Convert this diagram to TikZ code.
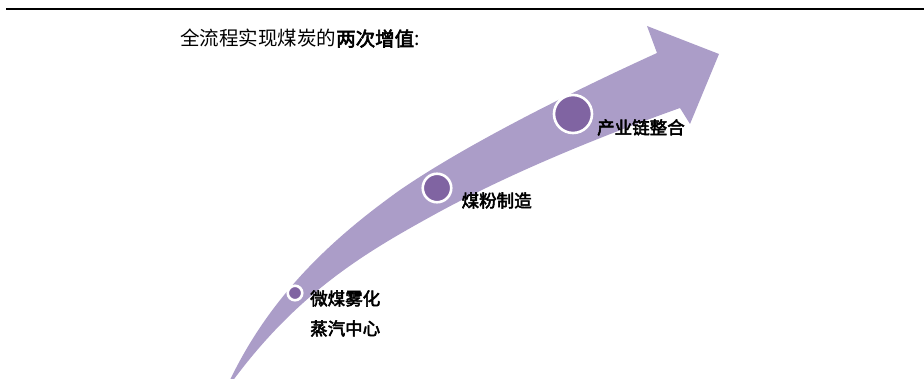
\documentclass[tikz,border=0pt]{standalone}
\usepackage{fontspec}
\newfontfamily\cjk{Noto Sans CJK SC}
\newfontfamily\cjkb[FakeBold=3]{Noto Sans CJK SC}
\definecolor{bandpurple}{RGB}{171,157,200}
\definecolor{dotpurple}{RGB}{128,100,162}
\begin{document}
\begin{tikzpicture}[x=1pt,y=-1pt,
  dot/.style={circle,fill=dotpurple,draw=white,line width=2.6pt,inner sep=0pt},
  lab/.style={anchor=west,inner sep=0pt,font=\cjkb\fontsize{17.5}{20}\selectfont}]
\useasboundingbox (0,0) rectangle (924,379);
% top rule
\coordinate (ruleL) at (6,9);
\coordinate (ruleR) at (924,9);
\draw[line width=2pt] (ruleL) -- (ruleR);
% title
\node[anchor=west,inner sep=0pt,font=\fontsize{19.5}{22}\selectfont] (title) at (180,38.5)
  {\cjk 全流程实现煤炭的\cjkb 两次增值\cjk :};
% curved arrow
\fill[bandpurple]
  (224,393) .. controls (265,300) and (330,240) .. (400,190)
  .. controls (470,142) and (580,88) .. (657,53)
  -- (647,26) -- (719,54) -- (690,124) -- (680,108)
  .. controls (590,140) and (500,178) .. (430,217)
  .. controls (363,254) and (292,296) .. (224,393)
  -- cycle;
% dots
\node[dot,minimum size=14.5pt] (d1) at (295,293) {};
\node[dot,minimum size=28.5pt] (d2) at (437,188) {};
\node[dot,minimum size=38pt] (d3) at (573,114) {};
% labels
\node[lab] (l1) at (310,298.5) {微煤雾化};
\node[lab] (l1b) at (310,328.5) {蒸汽中心};
\node[lab] (l2) at (461.5,200.5) {煤粉制造};
\node[lab] (l3) at (597,127.5) {产业链整合};
\end{tikzpicture}
\end{document}
